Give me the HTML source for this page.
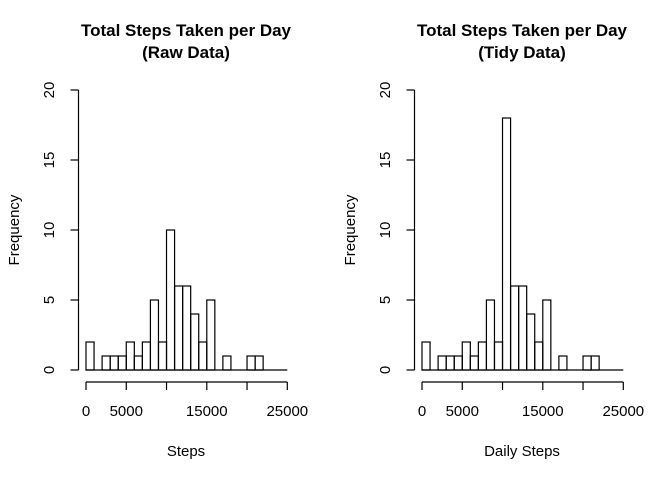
<!DOCTYPE html>
<html><head><meta charset="utf-8"><style>
body{margin:0;background:#fff}
svg text{font-family:"Liberation Sans",Arial,sans-serif;fill:#000}
</style></head><body>
<svg id="c" width="672" height="480" xmlns="http://www.w3.org/2000/svg"></svg>
<script>
const binStarts=[0,1000,2000,3000,4000,5000,6000,7000,8000,9000,10000,11000,12000,13000,14000,15000,16000,17000,18000,19000,20000,21000,22000,23000,24000];
const rawCounts=[2,0,1,1,1,2,1,2,5,2,10,6,6,4,2,5,0,1,0,0,1,1,0,0,0];
const tidyCounts=[2,0,1,1,1,2,1,2,5,2,18,6,6,4,2,5,0,1,0,0,1,1,0,0,0];
const xTicks=[0,5000,10000,15000,20000,25000];
const xTickLabels=["0","5000","","15000","","25000"];
const yTicks=[0,5,10,15,20];
const binWidth=1000;
const panels=[
 {off:0,title1:"Total Steps Taken per Day",title2:"(Raw Data)",xlab:"Steps",counts:rawCounts,name:"raw"},
 {off:336,title1:"Total Steps Taken per Day",title2:"(Tidy Data)",xlab:"Daily Steps",counts:tidyCounts,name:"tidy"}
];
const svg=document.getElementById('c');
const NS="http://www.w3.org/2000/svg";
function mk(t,a,txt){const e=document.createElementNS(NS,t);for(const k in a)e.setAttribute(k,a[k]);if(txt!==undefined)e.textContent=txt;svg.appendChild(e);return e;}
panels.forEach(p=>{
 const xs=v=>p.off+86+v*(201.3/25000);
 const ys=v=>370-v*14;
 let e;
 e=mk('text',{x:p.off+186,y:36,'text-anchor':'middle','font-size':'17','font-weight':'bold'},p.title1);
 
 e=mk('text',{x:p.off+186,y:58,'text-anchor':'middle','font-size':'17','font-weight':'bold'},p.title2);
 
 binStarts.forEach((b,i)=>{
  const x0=xs(b),x1=xs(b+binWidth),y=ys(p.counts[i]);
  e=mk('rect',{x:x0,y:y,width:x1-x0,height:370-y,fill:'none',stroke:'#000','stroke-width':1.2});
  
 });
 e=mk('line',{x1:xs(binStarts[0]),x2:xs(binStarts[binStarts.length-1]+binWidth),y1:370,y2:370,stroke:'#000','stroke-width':1.2});
 
 e=mk('line',{x1:xs(xTicks[0]),x2:xs(xTicks[xTicks.length-1]),y1:382,y2:382,stroke:'#000','stroke-width':1.2});
 
 xTicks.forEach((t,i)=>{
  mk('line',{x1:xs(t),x2:xs(t),y1:382,y2:390,stroke:'#000','stroke-width':1.2});
  e=mk('text',{x:xs(t),y:416,'text-anchor':'middle','font-size':'15'},xTickLabels[i]);
  
 });
 e=mk('text',{x:p.off+186,y:456,'text-anchor':'middle','font-size':'15'},p.xlab);
 
 const ax=p.off+78.5;
 e=mk('line',{x1:ax,x2:ax,y1:ys(0),y2:ys(20),stroke:'#000','stroke-width':1.2});
 
 yTicks.forEach(t=>{
  mk('line',{x1:ax,x2:ax-8,y1:ys(t),y2:ys(t),stroke:'#000','stroke-width':1.2});
  e=mk('text',{x:0,y:0,'text-anchor':'middle','font-size':'15',transform:`translate(${p.off+54},${ys(t)}) rotate(-90)`},String(t));
  
 });
 e=mk('text',{x:0,y:0,'text-anchor':'middle','font-size':'15',transform:`translate(${p.off+19},230) rotate(-90)`},'Frequency');
 
});
</script>
</body></html>
